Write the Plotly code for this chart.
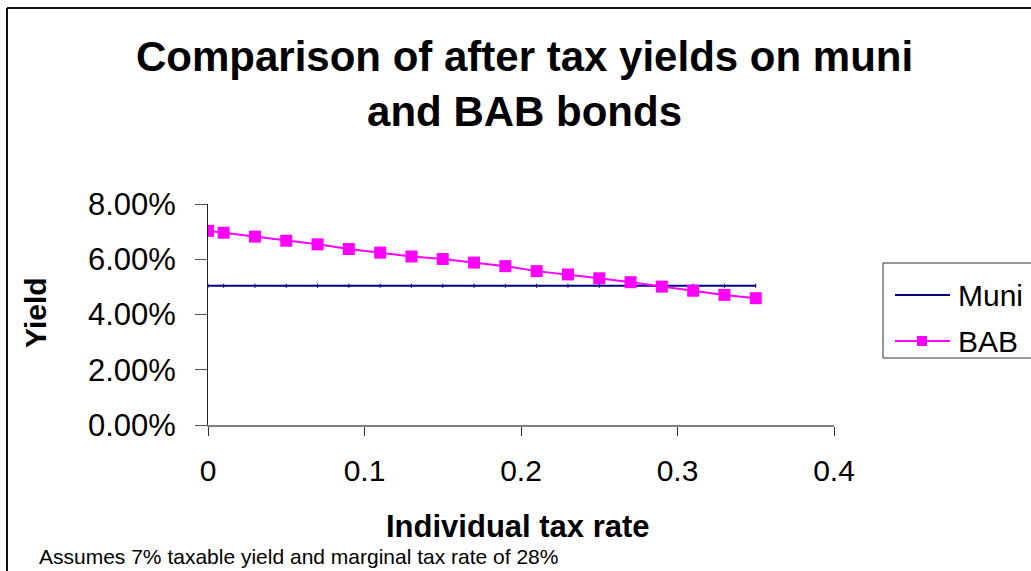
import plotly.graph_objects as go

# Individual tax rate (x) and after-tax yields (%) for the two bond types
tax_rate = [0, 0.01, 0.03, 0.05, 0.07, 0.09, 0.11, 0.13, 0.15, 0.17,
            0.19, 0.21, 0.23, 0.25, 0.27, 0.29, 0.31, 0.33, 0.35]
muni_yield = [5.04] * len(tax_rate)
bab_yield = [7.03, 6.96, 6.82, 6.67, 6.54, 6.37, 6.24, 6.10, 6.01, 5.88,
             5.75, 5.57, 5.45, 5.31, 5.17, 5.01, 4.86, 4.71, 4.59]

series_names = ["Muni", "BAB"]
y_ticks = [0, 2, 4, 6, 8]
y_tick_text = ["0.00%", "2.00%", "4.00%", "6.00%", "8.00%"]
x_ticks = [0, 0.1, 0.2, 0.3, 0.4]
x_tick_text = ["0", "0.1", "0.2", "0.3", "0.4"]

MUNI_COLOR = "#000080"
BAB_COLOR = "#FF00FF"
FONT = "Liberation Sans, Arial, sans-serif"
W, H = 1031, 571
L, R, T, B = 208, 197, 204, 146
PW, PH = W - L - R, H - T - B


def px(x):
    return (x - L) / PW


def py(y):
    return (H - B - y) / PH


fig = go.Figure()
fig.add_trace(go.Scatter(
    x=tax_rate, y=muni_yield, name=series_names[0], mode="lines",
    line=dict(color=MUNI_COLOR, width=2), showlegend=False,
))
# small tick marks at each Muni data point
fig.add_trace(go.Scatter(
    x=tax_rate, y=muni_yield, mode="markers", hoverinfo="skip",
    marker=dict(symbol="line-ns-open", size=3, color=MUNI_COLOR,
                line=dict(color=MUNI_COLOR, width=1)),
    showlegend=False,
))
fig.add_trace(go.Scatter(
    x=tax_rate, y=bab_yield, name=series_names[1], mode="lines+markers",
    line=dict(color=BAB_COLOR, width=2),
    marker=dict(symbol="square", size=12, color=BAB_COLOR),
    showlegend=False,
))

# legend box drawn on the page: frame, line samples and labels
legend_shapes = [
    dict(type="rect", xref="paper", yref="paper",
         x0=px(883), y0=py(263), x1=px(1045), y1=py(358),
         line=dict(color="#333333", width=1), fillcolor="white", layer="below"),
    dict(type="line", xref="paper", yref="paper",
         x0=px(895), y0=py(295), x1=px(950), y1=py(295),
         line=dict(color=MUNI_COLOR, width=2)),
    dict(type="line", xref="paper", yref="paper",
         x0=px(895), y0=py(341), x1=px(950), y1=py(341),
         line=dict(color=BAB_COLOR, width=2)),
    dict(type="rect", xref="paper", yref="paper",
         x0=px(917), y0=py(336), x1=px(927), y1=py(346),
         line=dict(color=BAB_COLOR, width=0), fillcolor=BAB_COLOR),
]
legend_labels = [
    dict(text=series_names[0], xref="paper", yref="paper", x=px(956), y=py(295),
         xanchor="left", yanchor="middle", showarrow=False,
         font=dict(size=30, family=FONT)),
    dict(text=series_names[1], xref="paper", yref="paper", x=px(956), y=py(341),
         xanchor="left", yanchor="middle", showarrow=False,
         font=dict(size=30, family=FONT)),
]

fig.update_layout(
    width=W, height=H,
    margin=dict(l=L, r=R, t=T, b=B, pad=0),
    paper_bgcolor="white", plot_bgcolor="white",
    font=dict(family=FONT, color="black"),
    showlegend=False,
    xaxis=dict(
        range=[0, 0.4], tickvals=x_ticks, ticktext=x_tick_text,
        showgrid=False, zeroline=False, showline=True,
        linecolor="#808080", linewidth=2, ticks="outside", ticklen=9,
        tickcolor="#333333", tickwidth=1,
        tickfont=dict(size=30, family=FONT), ticklabelstandoff=9,
    ),
    yaxis=dict(
        range=[0, 8], tickvals=y_ticks, ticktext=y_tick_text,
        showgrid=False, zeroline=False, showline=True,
        linecolor="#222222", linewidth=1, ticks="outside", ticklen=12,
        tickcolor="#555555", tickwidth=1,
        tickfont=dict(size=31, family=FONT), ticklabelstandoff=13,
    ),
    annotations=[
        dict(text="<b>Comparison of after tax yields on muni<br>and BAB bonds</b>",
             xref="paper", yref="paper", x=px(524), y=py(84),
             xanchor="center", yanchor="middle", showarrow=False,
             font=dict(size=42, family=FONT)),
        dict(text="<b>Yield</b>", xref="paper", yref="paper",
             x=px(35), y=py(313), xanchor="center", yanchor="middle",
             textangle=-90, showarrow=False, font=dict(size=30, family=FONT)),
        dict(text="<b>Individual tax rate</b>", xref="paper", yref="paper",
             x=px(518), y=py(526), xanchor="center", yanchor="middle",
             showarrow=False, font=dict(size=31, family=FONT)),
        dict(text="Assumes 7% taxable yield and marginal tax rate of 28%",
             xref="paper", yref="paper", x=px(37), y=py(570),
             xanchor="left", yanchor="bottom", showarrow=False,
             font=dict(size=21, family=FONT)),
    ] + legend_labels,
    shapes=[
        # chart-area frame (top and left edges inside the page)
        dict(type="line", xref="paper", yref="paper",
             x0=px(7), y0=py(8), x1=px(1040), y1=py(8),
             line=dict(color="#111111", width=2)),
        dict(type="line", xref="paper", yref="paper",
             x0=px(7), y0=py(8), x1=px(7), y1=py(580),
             line=dict(color="#111111", width=2)),
    ] + legend_shapes,
)

fig.write_html("out.html")
